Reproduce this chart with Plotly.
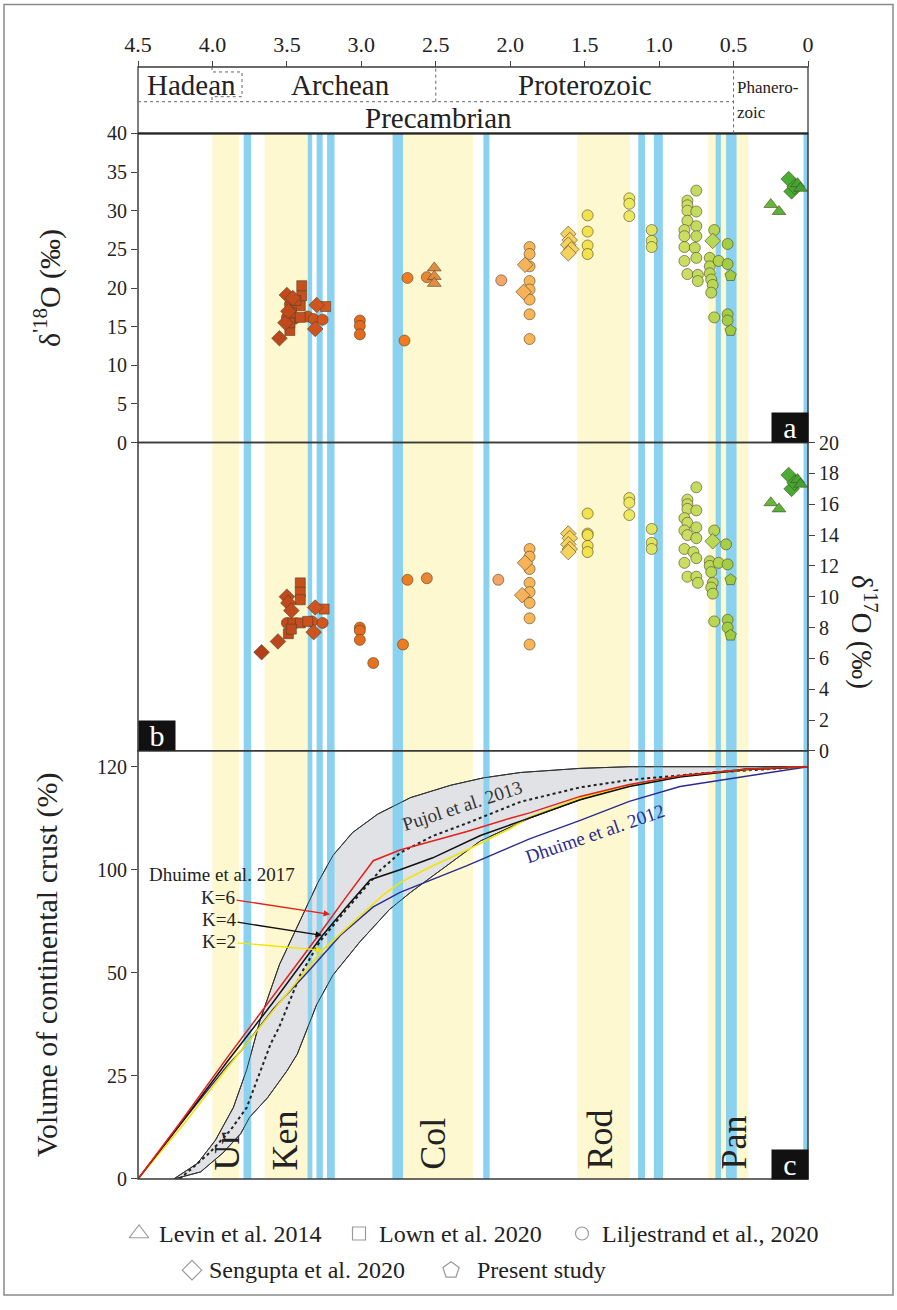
import plotly.graph_objects as go

# ---------------- data ----------------
age_ticks = [4.5, 4.0, 3.5, 3.0, 2.5, 2.0, 1.5, 1.0, 0.5, 0.0]
age_tick_text = ["4.5", "4.0", "3.5", "3.0", "2.5", "2.0", "1.5", "1.0", "0.5", "0"]

# supercontinent windows (yellow) and event bands (blue), Ga
yellow_start = [4.00, 3.65, 2.72, 1.55, 0.67]
yellow_end = [3.82, 3.36, 2.25, 1.195, 0.40]
blue_start = [3.79, 3.36, 3.30, 3.23, 2.79, 2.18, 1.14, 1.035, 0.62, 0.55, 0.03]
blue_end = [3.74, 3.33, 3.26, 3.18, 2.72, 2.14, 1.095, 0.975, 0.585, 0.48, 0.0]

continent_names = ["Ur", "Ken", "Col", "Rod", "Pan"]
continent_ages = [3.90, 3.51, 2.52, 1.40, 0.50]

eon_names = ["Hadean", "Archean", "Proterozoic"]
eon_centres = [4.14, 3.14, 1.50]

# ---- panel a : d18O ----
a_tri_age = [2.51, 2.51, 2.51, 0.25, 0.195, 0.07, 0.05]
a_tri_val = [22.6, 21.5, 20.6, 30.8, 29.9, 33.5, 32.9]

a_sq_age = [3.48, 3.40, 3.40, 3.41, 3.48, 3.47, 3.24, 3.41, 3.44]
a_sq_val = [14.5, 20.3, 19.0, 17.7, 15.5, 16.8, 17.6, 16.2, 18.4]

a_circ_age = [3.48, 3.50, 3.36, 3.32, 3.26, 3.45,
              3.01, 3.01, 3.01, 2.71, 2.69, 2.56, 2.06,
              1.87, 1.87, 1.87, 1.87, 1.87, 1.87, 1.87, 1.87,
              1.48, 1.48, 1.48, 1.48,
              1.20, 1.20, 1.20,
              1.05, 1.05, 1.05,
              0.75, 0.81, 0.81, 0.81, 0.81, 0.75, 0.83, 0.75, 0.83, 0.75, 0.83, 0.76, 0.75, 0.83, 0.81, 0.74, 0.74,
              0.66, 0.66, 0.66, 0.65, 0.64, 0.65, 0.63, 0.60, 0.54, 0.54, 0.63, 0.54, 0.54]
a_circ_val = [17.9, 16.2, 16.3, 16.0, 15.9, 16.0,
              15.8, 15.1, 14.0, 13.2, 21.3, 21.4, 21.0,
              25.3, 24.4, 22.8, 20.9, 19.8, 18.5, 16.6, 13.4,
              29.4, 27.3, 25.5, 24.4,
              31.6, 30.9, 29.3,
              27.5, 26.1, 25.3,
              32.6, 31.3, 30.7, 30.0, 28.7, 29.9, 27.5, 28.0, 26.7, 26.7, 25.3, 25.2, 23.9, 23.5, 21.8, 21.7, 20.9,
              23.9, 22.8, 21.9, 21.1, 20.4, 19.4, 27.5, 23.5, 25.7, 23.1, 16.2, 16.6, 15.8]

a_dia_age = [3.55, 3.50, 3.46, 3.51, 3.30, 3.31, 3.49,
             1.90, 1.91,
             1.61, 1.60, 1.61, 1.59, 1.61,
             0.64, 0.13, 0.11, 0.09]
a_dia_val = [13.5, 19.1, 18.7, 15.5, 17.8, 14.7, 17.0,
             23.0, 19.5,
             27.0, 26.2, 25.6, 25.0, 24.5,
             26.1, 34.1, 32.5, 33.1]

a_pent_age = [0.52, 0.52]
a_pent_val = [21.6, 14.5]

# ---- panel b : d'17O ----
b_tri_age = [0.25, 0.195, 0.07, 0.05]
b_tri_val = [16.1, 15.7, 17.6, 17.3]

b_sq_age = [3.49, 3.41, 3.41, 3.41, 3.46, 3.41, 3.47, 3.25, 3.36]
b_sq_val = [7.6, 10.9, 10.3, 9.8, 8.3, 8.3, 7.9, 9.2, 8.4]

b_circ_age = [3.50, 3.33, 3.26,
              3.01, 3.01, 3.01, 2.92, 2.72, 2.69, 2.56, 2.08,
              1.87, 1.87, 1.87, 1.87, 1.87, 1.87, 1.87, 1.87,
              1.48, 1.48, 1.48, 1.48, 1.48,
              1.20, 1.20, 1.20,
              1.05, 1.05, 1.05,
              0.75, 0.81, 0.81, 0.81, 0.75, 0.83, 0.81, 0.75, 0.83, 0.81, 0.75, 0.83, 0.77, 0.75, 0.83, 0.81, 0.75, 0.74,
              0.66, 0.66, 0.65, 0.64, 0.65, 0.64, 0.63, 0.60, 0.55, 0.54, 0.63, 0.54, 0.54]
b_circ_val = [8.3, 8.4, 8.3,
              8.0, 7.8, 7.2, 5.7, 6.9, 11.1, 11.2, 11.1,
              13.1, 12.6, 11.8, 10.9, 10.3, 9.6, 8.6, 6.9,
              15.4, 14.1, 14.0, 13.3, 12.9,
              16.4, 16.1, 15.3,
              14.4, 13.5, 13.1,
              17.1, 16.3, 16.0, 15.7, 15.6, 15.1, 14.8, 14.5, 14.3, 14.0, 13.8, 13.1, 12.9, 12.5, 12.2, 11.3, 11.3, 10.9,
              12.3, 12.0, 11.6, 10.9, 10.6, 10.2, 14.3, 12.2, 13.4, 12.1, 8.4, 8.5, 8.0]

b_dia_age = [3.67, 3.56, 3.50, 3.49, 3.47, 3.31, 3.32,
             1.90, 1.92,
             1.61, 1.60, 1.61, 1.60, 1.61,
             0.64, 0.13, 0.11, 0.09]
b_dia_val = [6.4, 7.1, 10.0, 9.6, 9.1, 9.3, 7.7,
             12.2, 10.1,
             14.1, 13.8, 13.4, 13.1, 12.9,
             13.6, 17.9, 17.0, 17.4]

b_pent_age = [0.52, 0.52]
b_pent_val = [11.1, 7.5]

# ---- panel c : crustal growth curves ----
pujol_up_age = [4.26, 4.10, 3.98, 3.86, 3.77, 3.68, 3.55, 3.41, 3.29, 3.19, 3.06, 2.89, 2.67, 2.40, 2.18, 1.93, 1.53, 1.20, 0.80, 0.40, 0.0]
pujol_up_val = [0, 3.8, 9.4, 17.3, 26.5, 38.5, 52.0, 63.0, 72.0, 78.5, 84.0, 88.5, 92.5, 95.5, 97.3, 98.6, 99.6, 100, 100, 100, 100]
pujol_lo_age = [4.26, 4.08, 3.93, 3.81, 3.75, 3.63, 3.50, 3.43, 3.39, 3.30, 3.19, 3.01, 2.81, 2.67, 2.52, 2.20, 1.87, 1.53, 1.20, 0.86, 0.41, 0.0]
pujol_lo_val = [0, 1.7, 6.3, 11.0, 15.0, 19.7, 26.2, 30.3, 34.0, 42.3, 49.5, 57.5, 65.4, 69.5, 73.5, 82.0, 87.5, 92.0, 95.5, 97.8, 99.5, 100]
pujol_mid_age = [4.22, 4.02, 3.88, 3.77, 3.61, 3.55, 3.41, 3.28, 3.10, 2.87, 2.74, 2.52, 2.29, 1.93, 1.53, 1.20, 0.64, 0.0]
pujol_mid_val = [0, 6.3, 11.8, 17.3, 32.7, 37.0, 49.5, 57.5, 65.4, 75.0, 79.1, 83.2, 86.3, 91.5, 95.0, 96.8, 98.6, 100]

k6_age = [4.5, 4.2, 3.9, 3.6, 3.3, 3.1, 2.92, 2.74, 2.52, 2.29, 2.0, 1.87, 1.53, 1.2, 0.86, 0.41, 0.0]
k6_val = [0, 14.5, 29.5, 44.0, 58.5, 68.5, 77.2, 79.8, 82.0, 84.3, 87.5, 88.8, 92.8, 95.7, 97.8, 99.4, 100]
k4_age = [4.5, 4.2, 3.9, 3.6, 3.26, 3.1, 2.94, 2.74, 2.52, 2.20, 1.93, 1.53, 1.2, 0.86, 0.41, 0.0]
k4_val = [0, 14.0, 28.5, 42.5, 59.1, 66.0, 72.6, 75.0, 77.9, 83.3, 86.8, 92.0, 95.2, 97.5, 99.3, 100]
k2_age = [4.5, 4.2, 3.9, 3.6, 3.26, 3.0, 2.85, 2.74, 2.52, 2.29, 2.0, 1.87, 1.53, 1.2, 0.86, 0.41, 0.0]
k2_val = [0, 13.0, 27.0, 40.5, 55.5, 64.0, 69.0, 71.9, 76.0, 79.8, 85.0, 87.8, 92.4, 95.4, 97.6, 99.3, 100]
d12_age = [4.5, 4.2, 3.9, 3.81, 3.59, 3.36, 3.14, 2.92, 2.74, 2.52, 2.29, 2.0, 1.87, 1.53, 1.20, 0.86, 0.41, 0.0]
d12_val = [0, 14.0, 27.5, 31.0, 41.3, 50.2, 59.1, 66.0, 69.5, 72.6, 76.0, 80.5, 82.5, 87.0, 91.6, 95.2, 97.8, 100]

c_tickvals = [0, 25, 50, 75, 100]
c_ticktext = ["0", "25", "50", "100", "120"]

legend_names = ["Levin et al. 2014", "Lown et al. 2020", "Liljestrand et al., 2020",
                "Sengupta et al. 2020", "Present study"]
legend_symbols = ["triangle-up-open", "square-open", "circle-open", "diamond-open", "pentagon-open"]

# ---------------- layout geometry ----------------
W, H = 897, 1310
L, R, T, B = 138, 89, 67, 10
PW, PH = W - L - R, H - T - B
C_TOP = 103.85


def py(p):
    return (H - B - p) / PH


def px(p):
    return (p - L) / PW


dom_a = [py(446), py(134)]
dom_b = [py(757), py(446)]
dom_c = [py(1189), py(757)]
dom_leg = [0, py(1189)]

FONT = "Liberation Serif, Times New Roman, serif"
BLUE = "#8ad2f0"
YELLOW = "#fdf8d0"


def fnt(size, color="#222222"):
    return dict(family=FONT, size=size, color=color)


age_scale = [[0.0, '#3a9e2e'], [0.04, '#4caf35'], [0.10, '#7cc23e'], [0.14, '#9dcc3e'],
             [0.17, '#b8d855'], [0.22, '#c9de62'], [0.29, '#e2e660'], [0.33, '#ece95e'],
             [0.40, '#f2e24c'], [0.43, '#f5d45e'], [0.50, '#f7b752'], [0.55, '#f5a86a'],
             [0.66, '#e2904e'], [0.72, '#f07e20'], [0.80, '#e86f1c'], [0.88, '#d3561f'],
             [1.0, '#b0401a']]

fig = go.Figure()


def add_pts(ages, vals, symbol, size, yax):
    fig.add_trace(go.Scatter(
        x=ages, y=vals, mode="markers", xaxis="x", yaxis=yax, showlegend=False,
        cliponaxis=False,
        marker=dict(symbol=symbol, size=size, color=ages, colorscale=age_scale,
                    cmin=0, cmax=3.7,
                    line=dict(color="rgba(80,65,40,0.75)", width=0.8))))


# panel a
add_pts(a_circ_age, a_circ_val, "circle", 11, "y")
add_pts(a_sq_age, a_sq_val, "square", 10, "y")
add_pts(a_dia_age, a_dia_val, "diamond", 12, "y")
add_pts(a_tri_age, a_tri_val, "triangle-up", 12, "y")
add_pts(a_pent_age, a_pent_val, "pentagon", 12, "y")
# panel b
add_pts(b_circ_age, b_circ_val, "circle", 11, "y2")
add_pts(b_sq_age, b_sq_val, "square", 10, "y2")
add_pts(b_dia_age, b_dia_val, "diamond", 12, "y2")
add_pts(b_tri_age, b_tri_val, "triangle-up", 12, "y2")
add_pts(b_pent_age, b_pent_val, "pentagon", 12, "y2")

# panel c : Pujol envelope (opaque grey, over the yellow windows)
fig.add_trace(go.Scatter(
    x=pujol_up_age + pujol_lo_age[::-1], y=pujol_up_val + pujol_lo_val[::-1],
    mode="lines", fill="toself", fillcolor="#e1e2e5",
    line=dict(color="#333333", width=1), xaxis="x", yaxis="y3", showlegend=False))
# blue event bands stay visible above the envelope
for s, e in zip(blue_start, blue_end):
    fig.add_trace(go.Scatter(x=[s, e, e, s, s], y=[0, 0, C_TOP, C_TOP, 0], mode="lines",
                             fill="toself", fillcolor=BLUE, line=dict(width=0),
                             xaxis="x", yaxis="y3", showlegend=False, hoverinfo="skip"))
# envelope outline again on top
fig.add_trace(go.Scatter(x=pujol_up_age, y=pujol_up_val, mode="lines",
                         line=dict(color="#333333", width=1), xaxis="x", yaxis="y3", showlegend=False))
fig.add_trace(go.Scatter(x=pujol_lo_age, y=pujol_lo_val, mode="lines",
                         line=dict(color="#333333", width=1), xaxis="x", yaxis="y3", showlegend=False))
fig.add_trace(go.Scatter(x=pujol_mid_age, y=pujol_mid_val, mode="lines",
                         line=dict(color="#222222", width=2, dash="dot"),
                         xaxis="x", yaxis="y3", showlegend=False))
fig.add_trace(go.Scatter(x=d12_age, y=d12_val, mode="lines",
                         line=dict(color="#2b2b8f", width=1.4), xaxis="x", yaxis="y3", showlegend=False))
fig.add_trace(go.Scatter(x=k2_age, y=k2_val, mode="lines",
                         line=dict(color="#f2e400", width=1.6), xaxis="x", yaxis="y3", showlegend=False))
fig.add_trace(go.Scatter(x=k4_age, y=k4_val, mode="lines",
                         line=dict(color="#111111", width=1.5), xaxis="x", yaxis="y3", showlegend=False))
fig.add_trace(go.Scatter(x=k6_age, y=k6_val, mode="lines",
                         line=dict(color="#e3201b", width=1.5), xaxis="x", yaxis="y3", showlegend=False))

# legend (hidden axis in the bottom strip, pixel-like units)
leg_x = [139, 359, 582, 192, 451]
leg_y = [1244, 1244, 1244, 1281, 1281]
leg_tx = [157, 377, 600, 207, 475]
leg_sz = [17, 13, 13, 15, 17]
for i in range(5):
    fig.add_trace(go.Scatter(x=[leg_x[i]], y=[leg_y[i]], mode="markers", xaxis="x2", yaxis="y4",
                             showlegend=False, cliponaxis=False,
                             marker=dict(symbol=legend_symbols[i], size=leg_sz[i], color="#9a9a9a",
                                         line=dict(width=1.2, color="#9a9a9a"))))

shapes = []
# background bands
for s, e in zip(yellow_start, yellow_end):
    shapes.append(dict(type="rect", xref="x", yref="paper", x0=s, x1=e, y0=dom_c[0], y1=dom_a[1],
                       fillcolor=YELLOW, line=dict(width=0), layer="below"))
for s, e in zip(blue_start, blue_end):
    shapes.append(dict(type="rect", xref="x", yref="paper", x0=s, x1=e, y0=dom_c[0], y1=dom_a[1],
                       fillcolor=BLUE, line=dict(width=0), layer="below"))

# panel frames
for d in (dom_a, dom_b, dom_c):
    shapes.append(dict(type="rect", xref="paper", yref="paper", x0=0, x1=1, y0=d[0], y1=d[1],
                       line=dict(color="#3a3a3a", width=1.5)))
# header box
shapes.append(dict(type="rect", xref="paper", yref="paper", x0=0, x1=1, y0=dom_a[1], y1=1,
                   line=dict(color="#3a3a3a", width=1.3)))
shapes.append(dict(type="line", xref="paper", yref="paper", x0=0, x1=1, y0=dom_a[1], y1=dom_a[1],
                   line=dict(color="#222222", width=2)))
dotted = dict(color="#666666", width=1, dash="dot")
shapes.append(dict(type="line", xref="paper", yref="paper", x0=0, x1=px(733), y0=py(102), y1=py(102),
                   line=dotted))
shapes.append(dict(type="line", xref="x", yref="paper", x0=2.5, x1=2.5, y0=py(102), y1=1, line=dotted))
shapes.append(dict(type="line", xref="x", yref="paper", x0=0.5, x1=0.5, y0=dom_a[1], y1=1, line=dotted))
shapes.append(dict(type="path", xref="paper", yref="paper",
                   path="M {a},{t} L {a},{u} L {b},{u} L {b},{v} L {a},{v} L {a},{w}".format(
                       a=px(212), b=px(242), t=1, u=py(72), v=py(97), w=py(102)),
                   line=dotted))
# outer border
shapes.append(dict(type="rect", xref="paper", yref="paper", x0=px(4), x1=px(893), y0=py(1306), y1=py(4),
                   line=dict(color="#8a8a8a", width=1.5)))

ann = []


def note(text, x, y, xref="paper", yref="paper", size=20, color="#222222", xanchor="center",
         yanchor="middle", **kw):
    ann.append(dict(text=text, x=x, y=y, xref=xref, yref=yref, xanchor=xanchor, yanchor=yanchor,
                    showarrow=kw.pop("showarrow", False), font=fnt(size, color), **kw))


for n, c in zip(eon_names, eon_centres):
    note(n, c, py(85), xref="x", size=29)
note("Precambrian", 2.48, py(118), xref="x", size=29)
note("Phanero-", px(735), py(88), xanchor="left", size=17)
note("zoic", px(735), py(113), xanchor="left", size=17)

for n, a in zip(continent_names, continent_ages):
    note(n, a, py(1182), xref="x", yanchor="bottom", size=36, textangle=-90)

# axis titles
note("δ<sup>'18</sup>O (‰)", px(47), (dom_a[0] + dom_a[1]) / 2, size=30, textangle=-90)
note("Volume of continental crust (%)", px(47), (dom_c[0] + dom_c[1]) / 2, size=30, textangle=-90)
note("δ<sup>'17</sup>O (‰)", px(863), py(637), size=29, textangle=90)

# panel labels
for lab, cx, cy in (("a", 790, 431), ("b", 157, 742), ("c", 790, 1174)):
    note(lab, px(cx), py(cy), size=30, color="white", bgcolor="#111111", width=36, height=29,
         borderpad=0)

# panel c labels & arrows
note("Pujol et al. 2013", 2.32, 90.6, xref="x", yref="y3", size=19, color="#333333", textangle=-18)
note("Dhuime et al. 2012", 1.43, 83.9, xref="x", yref="y3", size=19, color="#2b2b8f", textangle=-19)
note("Dhuime et al. 2017", 3.936, 73.8, xref="x", yref="y3", size=19)
for k, hx, hy, axp, ayp, col in (("K=6", 3.21, 64.2, -112, -17, "#e3201b"),
                                 ("K=4", 3.264, 59.1, -103, -16, "#111111"),
                                 ("K=2", 3.264, 55.5, -103, -9, "#f2e400")):
    note(k, hx, hy, xref="x", yref="y3", size=19, showarrow=True, ax=axp, ay=ayp,
         arrowhead=2, arrowsize=1, arrowwidth=1.3, arrowcolor=col, standoff=0)

# legend texts
for i in range(5):
    note(legend_names[i], leg_tx[i], leg_y[i], xref="x2", yref="y4", xanchor="left", size=24)

fig.update_layout(
    width=W, height=H, margin=dict(l=L, r=R, t=T, b=B),
    paper_bgcolor="white", plot_bgcolor="white",
    font=fnt(20),
    showlegend=False,
    xaxis=dict(domain=[0, 1], range=[4.5, 0], anchor="free", position=1, side="top",
               tickvals=age_ticks, ticktext=age_tick_text, ticks="outside", ticklen=6,
               tickcolor="#444", showgrid=False, zeroline=False, showline=False,
               tickfont=fnt(22)),
    xaxis2=dict(domain=[0, 1], range=[L, W - R], anchor="y4", visible=False),
    yaxis=dict(domain=dom_a, range=[0, 40], anchor="x", tickvals=list(range(0, 41, 5)),
               ticks="outside", ticklen=6, tickcolor="#444", showgrid=False, zeroline=False,
               tickfont=fnt(20)),
    yaxis2=dict(domain=dom_b, range=[0, 20], anchor="x", side="right",
                tickvals=list(range(0, 21, 2)), ticks="outside", ticklen=6, tickcolor="#444",
                showgrid=False, zeroline=False, tickfont=fnt(20)),
    yaxis3=dict(domain=dom_c, range=[0, C_TOP], anchor="x", tickvals=c_tickvals, ticktext=c_ticktext,
                ticks="outside", ticklen=6, tickcolor="#444", showgrid=False, zeroline=False,
                tickfont=fnt(20)),
    yaxis4=dict(domain=dom_leg, range=[H - B, 1189], anchor="x2", visible=False),
    shapes=shapes, annotations=ann,
)

fig.write_html("out.html")
